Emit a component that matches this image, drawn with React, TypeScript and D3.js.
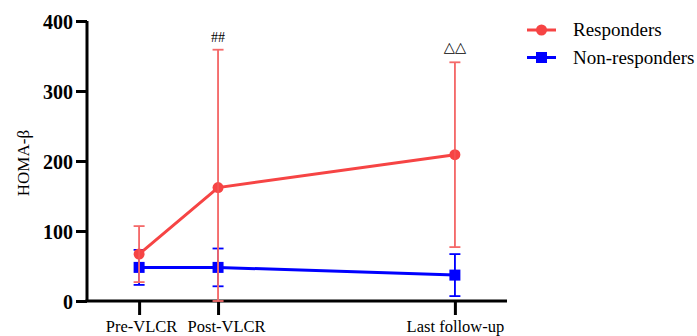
import { useEffect, useRef } from "react";
import * as d3 from "d3";

// time points and their position along the x axis (Post-VLCR to last follow-up spans 3 units)
const timepoints = ["Pre-VLCR", "Post-VLCR", "Last follow-up"];
const timeX = [0, 1, 4];

// HOMA-β mean ± SD
const respondersMean = [67, 162, 209];
const respondersSD = [40, 197, 132];
const nonRespondersMean = [48, 48, 37];
const nonRespondersSD = [25, 27, 30];

const yTicks = [0, 100, 200, 300, 400];
const annotations = ["", "##", "\u25B3\u25B3"];

const seriesNames = ["Responders", "Non-responders"];

const WIDTH = 697;
const HEIGHT = 336;
const FONT = "'Liberation Serif', 'Times New Roman', serif";
const RED = "#f64444";
const RED_ERR = "#f46a6a";
const BLUE = "#0000ff";

export default function App() {
  const ref = useRef<SVGSVGElement | null>(null);

  useEffect(() => {
    if (!ref.current) return;
    const svg = d3.select(ref.current);
    svg.selectAll("*").remove();

    const x = d3.scaleLinear().domain([-0.66, 4.66]).range([87, 507]);
    const y = d3.scaleLinear().domain([0, 400]).range([301, 21]);

    // y axis
    const yAxis = svg.append("g").attr("transform", `translate(${x(-0.66)},0)`)
      .call(d3.axisLeft(y).tickValues(yTicks).tickSize(11).tickPadding(3).tickFormat(d3.format("d")));
    yAxis.attr("font-family", null);
    yAxis.select(".domain").attr("stroke", "#000").attr("stroke-width", 3)
      .attr("d", `M0,${y(400)}V${y(0)}`);
    yAxis.selectAll(".tick line").attr("stroke", "#000").attr("stroke-width", 3);
    yAxis.selectAll(".tick text").style("font-family", FONT).style("font-size", "20px")
      .style("font-weight", "bold").attr("fill", "#000").attr("dy", "0.35em");

    // x axis; the two close labels sit a little apart, as in the original figure
    const labelShift = [2, 8, 0];
    const xAxis = svg.append("g").attr("transform", `translate(0,${y(0)})`)
      .call(d3.axisBottom(x).tickValues(timeX).tickSize(14).tickPadding(4)
        .tickFormat((d, i) => timepoints[i]));
    xAxis.attr("font-family", null);
    xAxis.select(".domain").attr("stroke", "#000").attr("stroke-width", 3)
      .attr("d", `M${x(-0.66) - 1.5},0H${x(4.66)}`);
    xAxis.selectAll(".tick line").attr("stroke", "#000").attr("stroke-width", 3);
    xAxis.selectAll<SVGTextElement, number>(".tick text").style("font-family", FONT).style("font-size", "16.5px")
      .attr("fill", "#000").attr("dy", "0.78em").attr("dx", (_, i) => labelShift[i]);

    // y title
    svg.append("text")
      .attr("transform", `translate(23,${y(197)}) rotate(-90)`)
      .attr("text-anchor", "middle")
      .attr("dominant-baseline", "central")
      .style("font-family", FONT).style("font-size", "17px")
      .text("HOMA-\u03B2");

    const line = d3.line<number>().x((_, i) => x(timeX[i])).y((d) => y(d));

    const drawSeries = (means: number[], sds: number[], color: string, errColor: string, marker: string) => {
      const g = svg.append("g");
      const bars = g.selectAll("g.err").data(means).enter().append("g");
      bars.append("line")
        .attr("x1", (_, i) => x(timeX[i])).attr("x2", (_, i) => x(timeX[i]))
        .attr("y1", (d, i) => y(d + sds[i])).attr("y2", (d, i) => y(Math.max(0, d - sds[i])))
        .attr("stroke", errColor).attr("stroke-width", 1.8);
      [1, -1].forEach((s) => {
        bars.append("line")
          .attr("x1", (_, i) => x(timeX[i]) - 5.5).attr("x2", (_, i) => x(timeX[i]) + 5.5)
          .attr("y1", (d, i) => y(Math.max(0, d + s * sds[i])))
          .attr("y2", (d, i) => y(Math.max(0, d + s * sds[i])))
          .attr("stroke", errColor).attr("stroke-width", 1.8);
      });
      g.append("path").datum(means).attr("d", line).attr("fill", "none")
        .attr("stroke", color).attr("stroke-width", 3);
      if (marker === "circle") {
        g.selectAll("circle").data(means).enter().append("circle")
          .attr("cx", (_, i) => x(timeX[i])).attr("cy", (d) => y(d)).attr("r", 5.5)
          .attr("fill", color);
      } else {
        g.selectAll("rect").data(means).enter().append("rect")
          .attr("x", (_, i) => x(timeX[i]) - 5.5).attr("y", (d) => y(d) - 5.5)
          .attr("width", 11).attr("height", 11).attr("fill", color);
      }
      // error bar stems drawn again on top of markers
      g.selectAll("line.top").data(means).enter().append("line")
        .attr("x1", (_, i) => x(timeX[i])).attr("x2", (_, i) => x(timeX[i]))
        .attr("y1", (d, i) => y(d + sds[i])).attr("y2", (d, i) => y(Math.max(0, d - sds[i])))
        .attr("stroke", errColor).attr("stroke-width", 1.2).attr("opacity", 0.6);
    };

    drawSeries(nonRespondersMean, nonRespondersSD, BLUE, BLUE, "square");
    drawSeries(respondersMean, respondersSD, RED, RED_ERR, "circle");

    // significance marks above responders' upper error bars
    svg.selectAll("text.sig").data(annotations).enter().append("text")
      .attr("x", (_, i) => x(timeX[i]))
      .attr("y", (d, i) => y(respondersMean[i] + respondersSD[i]) - (d.startsWith("#") ? 8 : 10))
      .attr("text-anchor", "middle")
      .style("font-family", (d) => (d.startsWith("#") ? FONT : "'DejaVu Sans', sans-serif"))
      .style("font-size", (d) => (d.startsWith("#") ? "14px" : "14.5px"))
      .attr("fill", "#000")
      .text((d) => d);

    // legend
    const legend = svg.append("g").attr("transform", "translate(527,30)");
    seriesNames.forEach((name, i) => {
      const row = legend.append("g").attr("transform", `translate(0,${i * 27.5})`);
      const color = i === 0 ? RED : BLUE;
      row.append("line").attr("x1", 0).attr("x2", 29).attr("stroke", color).attr("stroke-width", 3);
      if (i === 0) row.append("circle").attr("cx", 14.5).attr("r", 5.5).attr("fill", color);
      else row.append("rect").attr("x", 9).attr("y", -5.5).attr("width", 11).attr("height", 11).attr("fill", color);
      row.append("text").attr("x", 46).attr("y", 0).attr("dy", "0.33em")
        .style("font-family", FONT).style("font-size", "19px").attr("fill", "#000").text(name);
    });
  }, []);

  return (
    <svg
      ref={ref}
      width={WIDTH}
      height={HEIGHT}
      style={{ position: "absolute", left: 0, top: 0, background: "#fff" }}
    />
  );
}
